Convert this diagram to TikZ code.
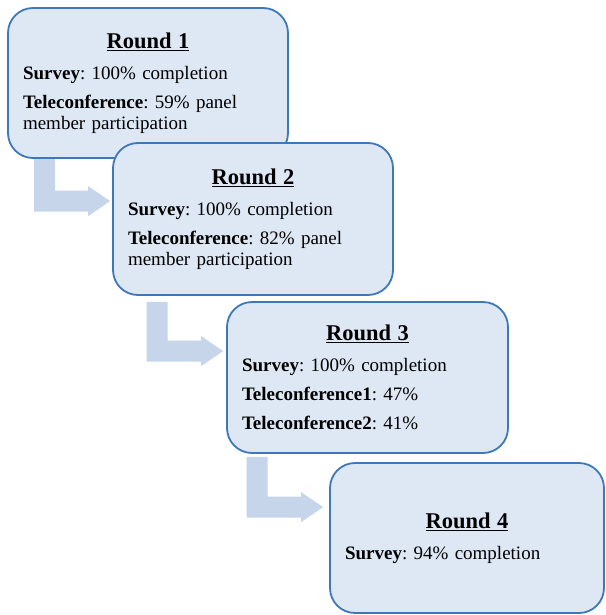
\documentclass[tikz,border=0pt]{standalone}
\usepackage{fontspec}
\setmainfont{Liberation Serif}
\usepackage{tikz}
\usetikzlibrary{calc}
\usetikzlibrary{backgrounds}
\usepackage{xcolor}
\definecolor{boxfill}{HTML}{DDE8F4}
\definecolor{boxline}{HTML}{3F78B9}
\definecolor{arrowfill}{HTML}{C6D5EA}
\frenchspacing
\newcommand{\bodyfont}{\fontsize{19}{21}\selectfont}
\newcommand{\roundtitle}[1]{{\centering\fontsize{22.5}{27}\selectfont\bfseries\underline{#1}\par}\vspace{10pt}}
\tikzstyle{roundbox}=[draw=boxline, fill=boxfill, line width=1.8pt, rounded corners=25pt, inner xsep=15pt, inner ysep=4pt, align=left, font=\bodyfont]
% bent block arrow: #1 top of the shaft, #2 tip
\newcommand{\bentarrow}[2]{%
  \fill[arrowfill] let \p1=(#1), \p2=(#2) in
    (\x1-10.5pt,\y1) -- (\x1+10.5pt,\y1) -- (\x1+10.5pt,\y2+10.5pt)
    -- (\x2-22pt,\y2+10.5pt) -- (\x2-22pt,\y2+15pt) -- (#2)
    -- (\x2-22pt,\y2-15pt) -- (\x2-22pt,\y2-10.5pt) -- (\x1-10.5pt,\y2-10.5pt) -- cycle;}

\begin{document}
\begin{tikzpicture}[x=1pt,y=-1pt]
\useasboundingbox (0,0) rectangle (605,615);
\node[roundbox, text width=250pt, minimum height=150pt] (r1) at (148,83)
  {\roundtitle{Round 1}\textbf{Survey}: 100\% completion\\[8pt]
   \textbf{Teleconference}: 59\% panel\\ member participation};
\node[roundbox, text width=250pt, minimum height=152pt] (r2) at (253,219)
  {\roundtitle{Round 2}\textbf{Survey}: 100\% completion\\[8pt]
   \textbf{Teleconference}: 82\% panel\\ member participation};
\node[roundbox, text width=251pt, minimum height=151pt] (r3) at (367.5,377.5)
  {\roundtitle{Round 3}\textbf{Survey}: 100\% completion\\[8pt]
   \textbf{Teleconference1}: 47\%\\[8pt]
   \textbf{Teleconference2}: 41\%};
\node[roundbox, text width=244pt, minimum height=150pt] (r4) at (467,538)
  {\roundtitle{Round 4}\textbf{Survey}: 94\% completion};
\coordinate (a1) at ([xshift=37.5pt]r1.south west);
\coordinate (t1) at ([xshift=-2pt,yshift=-59pt]r2.north west);
\coordinate (a2) at ([xshift=45pt,yshift=-6pt]r2.south west);
\coordinate (t2) at ([xshift=-3pt,yshift=-50pt]r3.north west);
\coordinate (a3) at ([xshift=31pt,yshift=-3pt]r3.south west);
\coordinate (t3) at ([xshift=-6pt,yshift=-45pt]r4.north west);
\begin{scope}[on background layer]
\bentarrow{a1}{t1}
\bentarrow{a2}{t2}
\bentarrow{a3}{t3}
\end{scope}
\end{tikzpicture}
\end{document}
